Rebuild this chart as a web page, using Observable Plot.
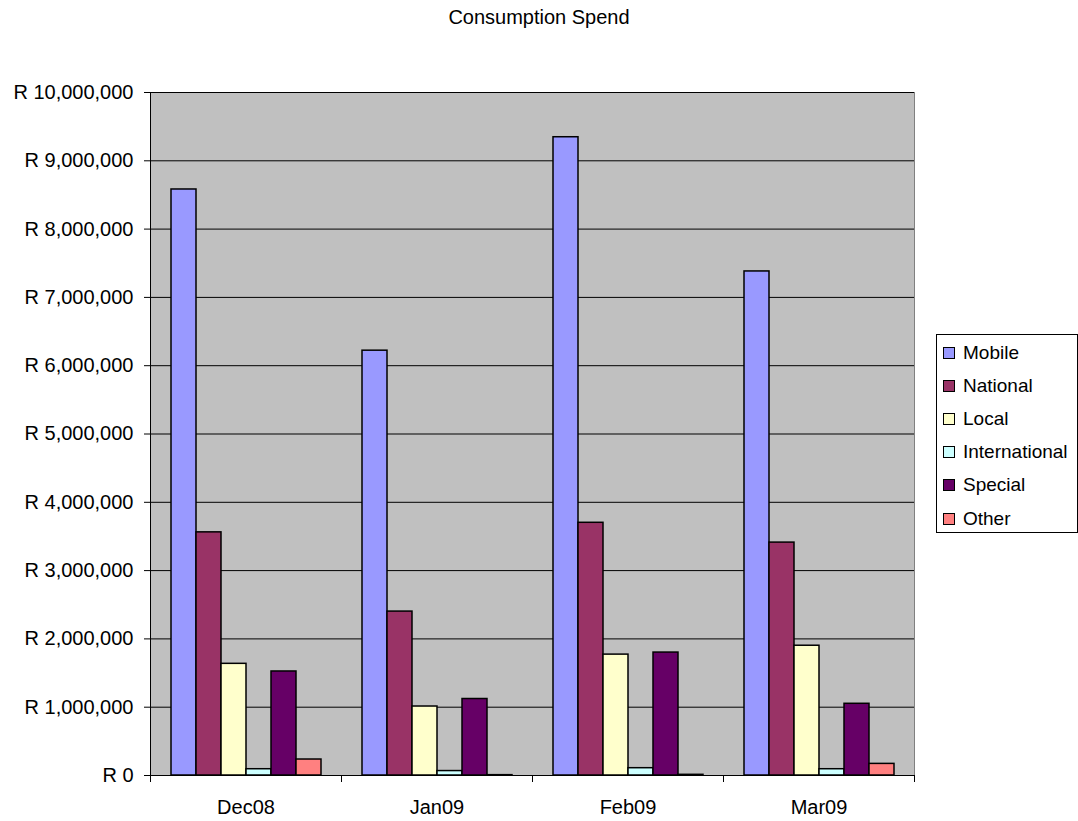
<!DOCTYPE html>
<html>
<head>
<meta charset="utf-8">
<script src="https://cdn.jsdelivr.net/npm/d3@7"></script>
<script src="https://cdn.jsdelivr.net/npm/@observablehq/plot@0.6"></script>
<style>
  body { margin: 0; background: #fff; font-family: "Liberation Sans", Arial, sans-serif; color: #000; }
  #wrap { position: relative; width: 1078px; height: 821px; }
  #title { position: absolute; left: 0; top: 6px; width: 1078px; text-align: center; font-size: 20px; }
  #legend { position: absolute; left: 936px; top: 334px; width: 142px; height: 199px; border: 1px solid #000; box-sizing: border-box; padding-top: 1px; background: #fff; }
  .item { display: flex; align-items: center; height: 33.2px; font-size: 19px; }
  .sw { width: 12px; height: 12px; box-sizing: border-box; border: 1.5px solid #000; margin-left: 6px; margin-right: 8px; }
  #chart { position: absolute; left: 0; top: 0; }
</style>
</head>
<body>
<div id="wrap">
  <div id="chart"></div>
  <div id="title">Consumption Spend</div>
  <div id="legend"></div>
</div>
<script>
// ---- data ----
const months = ["Dec08", "Jan09", "Feb09", "Mar09"];
const series = ["Mobile", "National", "Local", "International", "Special", "Other"];
const colors = ["#9999FF", "#993366", "#FFFFCC", "#CCFFFF", "#660066", "#FF8080"];
const mobile        = [8580000, 6220000, 9345000, 7380000];
const national      = [3560000, 2400000, 3700000, 3410000];
const local         = [1635000, 1010000, 1770000, 1900000];
const international = [  92000,   65000,  107000,   92000];
const special       = [1523000, 1120000, 1800000, 1050000];
const other         = [ 234000,    5000,   10000,  170000];
const yTicks = [0, 1000000, 2000000, 3000000, 4000000, 5000000, 6000000, 7000000, 8000000, 9000000, 10000000];

const valuesBySeries = [mobile, national, local, international, special, other];
const data = months.flatMap((m, i) => series.map((s, j) => ({month: m, series: s, value: valuesBySeries[j][i]})));

// ---- layout ----
const W = 1078, H = 821, mt = 92, mb = 46, ml = 150, mr = 164;
const plotH = H - mt - mb;
const fmt = d3.format(",");

const chart = Plot.plot({
  width: W, height: H,
  marginTop: mt, marginBottom: mb, marginLeft: ml, marginRight: mr,
  style: {fontFamily: '"Liberation Sans", Arial, sans-serif', fontSize: "20px", background: "transparent", color: "#000"},
  fx: {domain: months, padding: 0, axis: null, label: null},
  x: {domain: series, paddingInner: 0, paddingOuter: 0.75, axis: null},
  y: {domain: [0, 10000000], axis: null},
  color: {domain: series, range: colors},
  marks: [
    Plot.frame({fill: "#c0c0c0", stroke: "#c0c0c0", strokeWidth: 1, shapeRendering: "crispEdges"}),
    Plot.ruleY(yTicks.slice(1), {stroke: "#000", strokeWidth: 1}),
    Plot.frame({anchor: "right", stroke: "#808080", facetAnchor: "right"}),
    Plot.barY(data, {fx: "month", x: "series", y: "value", fill: "series", stroke: "#000", strokeWidth: 1.5}),
    Plot.frame({anchor: "left", stroke: "#000", facetAnchor: "left"}),
    Plot.frame({anchor: "left", stroke: "#000", insetTop: plotH, insetBottom: -6}),
    Plot.frame({anchor: "right", stroke: "#000", insetTop: plotH, insetBottom: -6, facetAnchor: "right"}),
    Plot.ruleY([0], {stroke: "#000", strokeWidth: 1}),
    Plot.axisY({ticks: yTicks, tickSize: 6, tickPadding: 11, label: null, fontSize: 20,
                tickFormat: d => "R " + fmt(d)}),
    Plot.axisFx({anchor: "bottom", tickSize: 0, tickPadding: 24, label: null, fontSize: 20})
  ]
});
document.getElementById("chart").appendChild(chart);

// ---- legend ----
const legend = document.getElementById("legend");
series.forEach((s, i) => {
  const row = document.createElement("div");
  row.className = "item";
  const sw = document.createElement("span");
  sw.className = "sw";
  sw.style.background = colors[i];
  const t = document.createElement("span");
  t.textContent = s;
  row.appendChild(sw);
  row.appendChild(t);
  legend.appendChild(row);
});
</script>
</body>
</html>
